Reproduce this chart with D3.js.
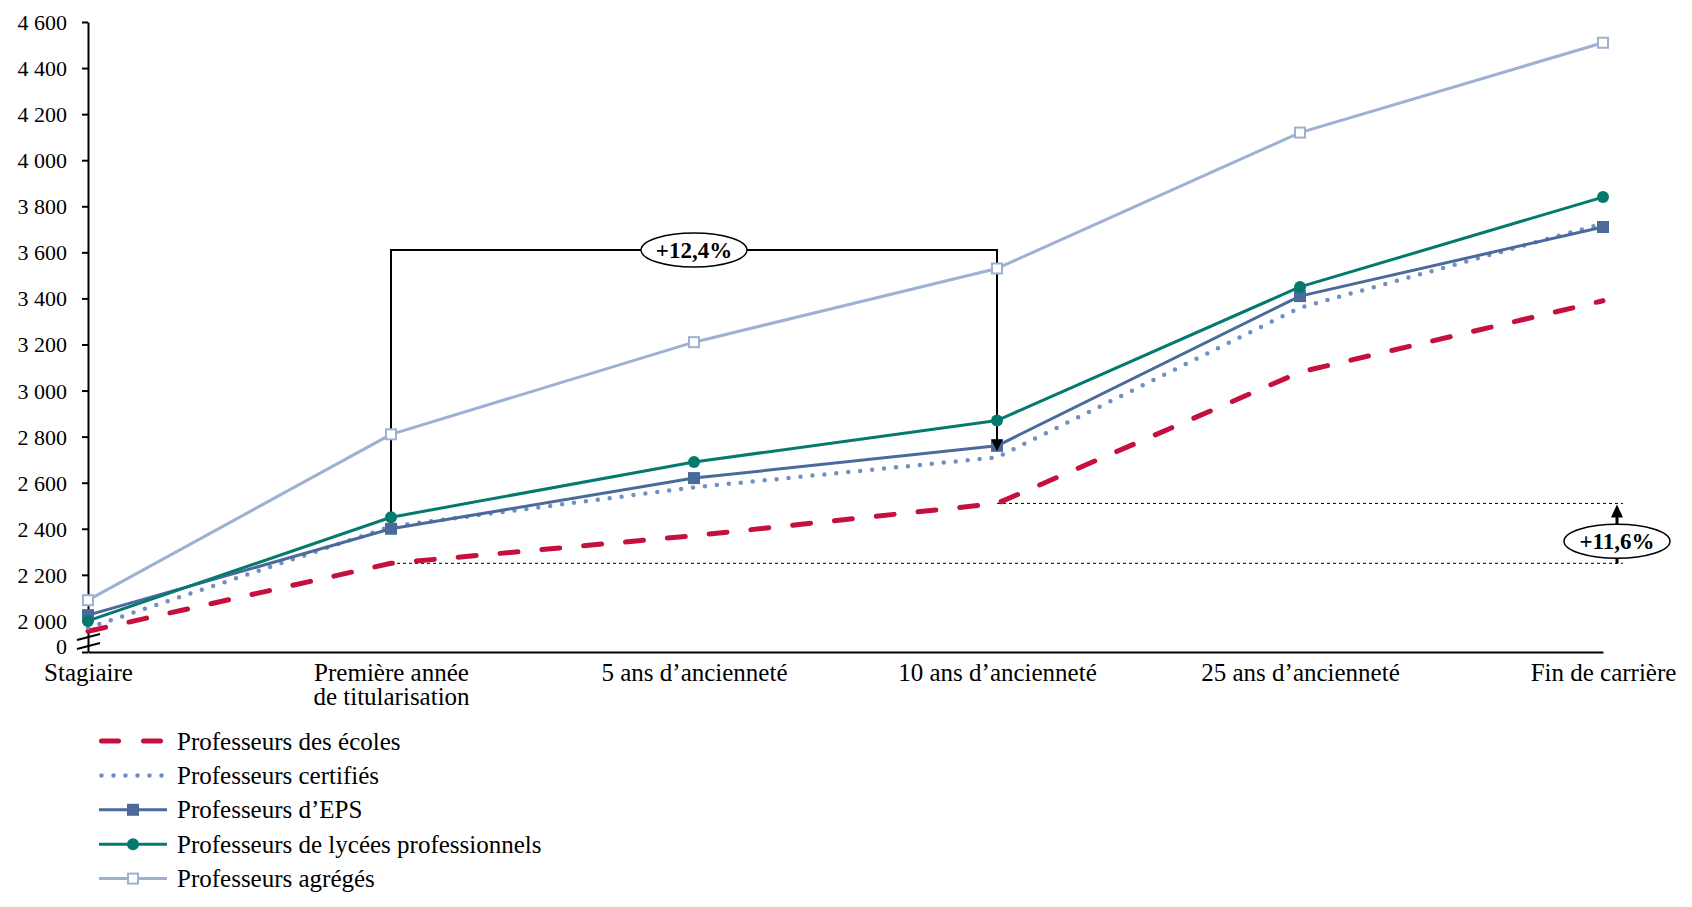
<!DOCTYPE html>
<html>
<head>
<meta charset="utf-8">
<script src="https://cdn.jsdelivr.net/npm/d3@7"></script>
<style>
  body { margin: 0; background: #fff; }
  svg { display: block; font-family: "Liberation Serif", "DejaVu Serif", serif; }
  .axis text { font-family: "Liberation Serif", serif; fill: #000; }
</style>
</head>
<body>
<svg id="chart" width="1692" height="907"></svg>
<script>
/*** Data ***/
const categories = [
  ["Stagiaire"],
  ["Première année", "de titularisation"],
  ["5 ans d’ancienneté"],
  ["10 ans d’ancienneté"],
  ["25 ans d’ancienneté"],
  ["Fin de carrière"]
];
const ecoles    = [1955, 2250, 2370, 2510, 3080, 3390];
const certifies = [1970, 2410, 2580, 2710, 3360, 3725];
const eps       = [2025, 2400, 2620, 2760, 3410, 3710];
const lp        = [2000, 2450, 2690, 2870, 3450, 3840];
const agreges   = [2090, 2810, 3210, 3530, 4120, 4510];

const yTicks = [2000, 2200, 2400, 2600, 2800, 3000, 3200, 3400, 3600, 3800, 4000, 4200, 4400, 4600];
const yMin = 1865;       // bottom of the broken axis, labelled "0"
const bracketLevel = 3610;

const labelCertif = "+12,4%";
const labelEcoles = "+11,6%";

// Series definitions (name, values, style)
const series = [
  {name: "Professeurs des écoles", values: ecoles, color: "#C50F3D", kind: "dash"},
  {name: "Professeurs certifiés", values: certifies, color: "#7190C1", kind: "dot"},
  {name: "Professeurs d’EPS", values: eps, color: "#4A6A9C", kind: "square"},
  {name: "Professeurs de lycées professionnels", values: lp, color: "#047A6F", kind: "circle"},
  {name: "Professeurs agrégés", values: agreges, color: "#9DB1D3", kind: "open"}
];

/*** Layout ***/
const box = {left: 88, right: 1603, top: 22, bottom: 652};
const svg = d3.select("#chart");

const x = d3.scalePoint().domain(d3.range(categories.length)).range([box.left, box.right]);
const y = d3.scaleLinear().domain([yMin, 4600]).range([box.bottom, box.top]);

const fr = d3.formatLocale({decimal: ",", thousands: "\u00a0", grouping: [3], currency: ["", " €"]});
const fmt = fr.format(",");

// Y axis
const yAxis = svg.append("g")
    .attr("class", "axis")
    .attr("transform", "translate(" + box.left + ",0)")
    .call(d3.axisLeft(y)
      .tickValues([yMin].concat(yTicks))
      .tickSize(6).tickSizeOuter(0).tickPadding(15)
      .tickFormat(d => d === yMin ? "0" : fmt(d)));
yAxis.select(".domain").attr("stroke-width", 2);
yAxis.selectAll(".tick line").attr("stroke-width", 2);
yAxis.selectAll(".tick text").attr("font-size", 22)
    .attr("dy", d => d === yMin ? "0.05em" : "0.34em");

// X axis
const xAxis = svg.append("g")
    .attr("class", "axis")
    .attr("transform", "translate(0," + box.bottom + ")")
    .call(d3.axisBottom(x).tickSize(0).tickSizeOuter(0).tickFormat(""));
xAxis.select(".domain").attr("stroke-width", 2);
xAxis.selectAll(".tick").each(function(i) {
  let t = d3.select(this).select("text")
      .attr("font-size", 25).attr("y", 0).attr("dy", null);
  categories[i].forEach((line, k) => {
    t.append("tspan").attr("x", 0).attr("y", 29 + k * 24).text(line);
  });
});

// Axis break marks
const brk = svg.append("g").attr("stroke", "#000").attr("stroke-width", 2);
[640, 649].forEach(yy => {
  brk.append("line").attr("x1", box.left - 11).attr("y1", yy)
     .attr("x2", box.left + 12).attr("y2", yy - 6);
});

/*** Annotations (under the series) ***/
const ann = svg.append("g");
const xa = x(1), xb = x(3), yTop = y(bracketLevel);
const tipY = y(certifies[3]) - 6;
ann.append("path")
    .attr("d", "M" + xa + "," + y(certifies[1]) + "V" + yTop + "H" + xb + "V" + (tipY - 6))
    .attr("fill", "none").attr("stroke", "#000").attr("stroke-width", 2);

// Reference lines for the écoles gap
const xRef = 1623;
[[1, ecoles[1]], [3, ecoles[3]]].forEach(([i, v]) => {
  ann.append("line")
      .attr("x1", x(i)).attr("x2", xRef)
      .attr("y1", y(v)).attr("y2", y(v))
      .attr("stroke", "#000").attr("stroke-width", 1)
      .attr("stroke-dasharray", "3 3");
});

/*** Series ***/
const line = d3.line().x((d, i) => x(i)).y(d => y(d));
series.forEach(s => {
  const g = svg.append("g");
  const p = g.append("path").attr("d", line(s.values))
      .attr("fill", "none").attr("stroke", s.color);
  if (s.kind === "dash") {
    p.attr("stroke-width", 5).attr("stroke-linecap", "round").attr("stroke-dasharray", "18 24");
  } else if (s.kind === "dot") {
    p.attr("stroke-width", 4.5).attr("stroke-linecap", "round").attr("stroke-dasharray", "0 12");
  } else {
    p.attr("stroke-width", 3).attr("stroke-linejoin", "round");
  }
  if (s.kind === "square") {
    g.selectAll("rect").data(s.values).enter().append("rect")
        .attr("x", (d, i) => x(i) - 6).attr("y", d => y(d) - 6)
        .attr("width", 12).attr("height", 12).attr("fill", s.color);
  } else if (s.kind === "circle") {
    g.selectAll("circle").data(s.values).enter().append("circle")
        .attr("cx", (d, i) => x(i)).attr("cy", d => y(d)).attr("r", 6)
        .attr("fill", s.color);
  } else if (s.kind === "open") {
    g.selectAll("rect").data(s.values).enter().append("rect")
        .attr("x", (d, i) => x(i) - 5).attr("y", d => y(d) - 5)
        .attr("width", 10).attr("height", 10)
        .attr("fill", "#fff").attr("stroke", s.color).attr("stroke-width", 2);
  }
});

/*** Annotations (over the series) ***/
const over = svg.append("g");
// arrowhead at 10 ans
over.append("path")
    .attr("d", "M" + xb + "," + tipY + "l-6,-12h12z").attr("fill", "#000");

function badge(cx, cy, txt) {
  over.append("ellipse").attr("cx", cx).attr("cy", cy).attr("rx", 53).attr("ry", 17)
      .attr("fill", "#fff").attr("stroke", "#000").attr("stroke-width", 1.5);
  over.append("text").attr("x", cx).attr("y", cy).attr("dy", "0.33em")
      .attr("text-anchor", "middle").attr("font-size", 23).attr("font-weight", "bold")
      .text(txt);
}
badge((xa + xb) / 2, yTop, labelCertif);

// écoles arrow
const xArr = 1617;
const yLow = y(ecoles[1]), yHigh = y(ecoles[3]);
over.append("line").attr("x1", xArr).attr("x2", xArr)
    .attr("y1", yLow).attr("y2", yHigh + 10)
    .attr("stroke", "#000").attr("stroke-width", 3);
over.append("path").attr("d", "M" + xArr + "," + (yHigh + 1) + "l-6,13h12z").attr("fill", "#000");
badge(xArr, yLow - 22, labelEcoles);

/*** Legend ***/
const legend = svg.append("g").attr("transform", "translate(99,741)");
series.forEach((s, i) => {
  const row = legend.append("g").attr("transform", "translate(0," + (i * 34.4) + ")");
  const l = row.append("line").attr("stroke", s.color);
  if (s.kind === "dash") {
    l.attr("x1", 2.5).attr("x2", 64).attr("stroke-width", 5)
     .attr("stroke-linecap", "round").attr("stroke-dasharray", "17 25");
  } else if (s.kind === "dot") {
    l.attr("x1", 2.5).attr("x2", 63).attr("stroke-width", 4.5)
     .attr("stroke-linecap", "round").attr("stroke-dasharray", "0 12");
  } else {
    l.attr("x1", 0).attr("x2", 68).attr("stroke-width", 3);
  }
  if (s.kind === "square") {
    row.append("rect").attr("x", 28).attr("y", -6).attr("width", 12).attr("height", 12).attr("fill", s.color);
  } else if (s.kind === "circle") {
    row.append("circle").attr("cx", 34).attr("cy", 0).attr("r", 6).attr("fill", s.color);
  } else if (s.kind === "open") {
    row.append("rect").attr("x", 29).attr("y", -5).attr("width", 10).attr("height", 10)
       .attr("fill", "#fff").attr("stroke", s.color).attr("stroke-width", 2);
  }
  row.append("text").attr("x", 78).attr("y", 8.5).attr("font-size", 25).text(s.name);
});
</script>
</body>
</html>
